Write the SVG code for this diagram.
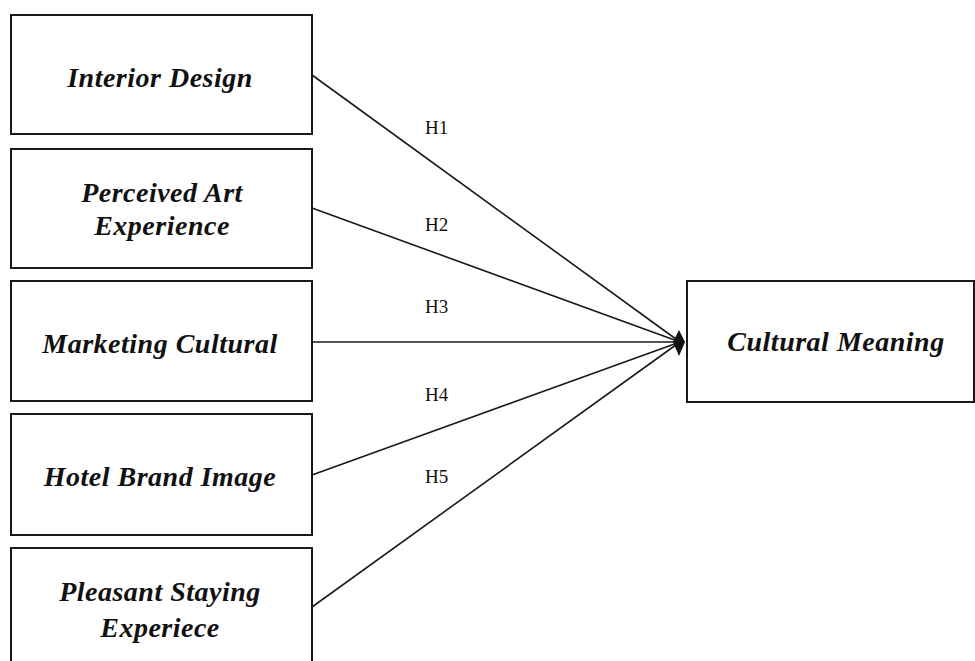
<svg xmlns="http://www.w3.org/2000/svg" width="975" height="661" viewBox="0 0 975 661">
<defs>
<style>
.box{fill:#fff;stroke:#1a1a1a;stroke-width:2}
.lbl{font-family:"Liberation Serif","Times New Roman",serif;font-weight:bold;font-style:italic;font-size:28px;letter-spacing:0.5px;fill:#111;text-anchor:middle}
.h{font-family:"Liberation Serif","Times New Roman",serif;font-size:19px;fill:#111}
.c{stroke:#1a1a1a;stroke-width:1.6;fill:none}
</style>
</defs>
<rect width="975" height="661" fill="#fff"/>
<g id="connectors">
<line class="c" x1="312" y1="75" x2="680" y2="342"/>
<line class="c" x1="312" y1="208" x2="680" y2="342"/>
<line class="c" x1="312" y1="342" x2="680" y2="342"/>
<line class="c" x1="312" y1="475" x2="680" y2="342"/>
<line class="c" x1="312" y1="607" x2="680" y2="342"/>
<path d="M673,342 L679,330 L685,342 L679,356 Z" fill="#111"/>
<text class="h" x="425" y="134">H1</text>
<text class="h" x="425" y="231">H2</text>
<text class="h" x="425" y="313">H3</text>
<text class="h" x="425" y="401">H4</text>
<text class="h" x="425" y="483">H5</text>
</g>
<g id="interior-design">
<rect class="box" x="11" y="15" width="301" height="119"/>
<text class="lbl" x="160" y="87">Interior Design</text>
</g>
<g id="perceived-art">
<rect class="box" x="11" y="149" width="301" height="119"/>
<text class="lbl" x="162" y="202">Perceived Art</text>
<text class="lbl" x="162" y="235">Experience</text>
</g>
<g id="marketing-cultural">
<rect class="box" x="11" y="281" width="301" height="120"/>
<text class="lbl" x="160" y="353">Marketing Cultural</text>
</g>
<g id="hotel-brand-image">
<rect class="box" x="11" y="414" width="301" height="121"/>
<text class="lbl" x="160" y="486">Hotel Brand Image</text>
</g>
<g id="pleasant-staying">
<rect class="box" x="11" y="548" width="301" height="125"/>
<text class="lbl" x="160" y="601">Pleasant Staying</text>
<text class="lbl" x="160" y="637">Experiece</text>
</g>
<g id="cultural-meaning">
<rect class="box" x="687" y="281" width="287" height="121"/>
<text class="lbl" x="836" y="351">Cultural Meaning</text>
</g>
</svg>
